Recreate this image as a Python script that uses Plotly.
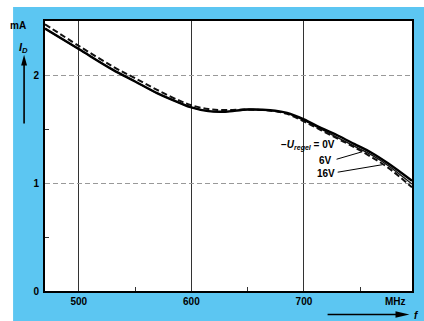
import plotly.graph_objects as go

# Frequency (MHz) and drain current (mA)
f_0v = [470, 500, 530, 550, 570, 590, 600, 615, 630, 650, 670, 685, 700, 715, 730, 745, 760, 775, 796]
i_0v = [2.43, 2.24, 2.05, 1.94, 1.83, 1.74, 1.70, 1.665, 1.66, 1.68, 1.675, 1.65, 1.59, 1.51, 1.44, 1.36, 1.28, 1.18, 1.02]

f_6v = [470, 500, 530, 550, 570, 590, 600, 615, 630, 650, 670, 685, 700, 715, 730, 745, 760, 775, 796]
i_6v = [2.43, 2.24, 2.05, 1.94, 1.83, 1.74, 1.70, 1.665, 1.66, 1.68, 1.67, 1.645, 1.58, 1.50, 1.42, 1.34, 1.26, 1.16, 0.99]

f_16v = [470, 500, 530, 550, 570, 590, 600, 615, 630, 650, 670, 685, 700, 715, 730, 745, 760, 775, 796]
i_16v = [2.47, 2.27, 2.08, 1.97, 1.86, 1.76, 1.72, 1.685, 1.675, 1.68, 1.67, 1.64, 1.57, 1.49, 1.41, 1.33, 1.24, 1.14, 0.96]

x_ticks = [500, 600, 700]
x_minor = [550, 650, 750]
y_ticks = [0, 1, 2]
y_minor = [0.5, 1.5]

BLUE = "#5cc6f2"
FONT = dict(family="Liberation Sans", size=10, color="black", weight="bold")

fig = go.Figure()
fig.add_trace(go.Scatter(x=f_16v, y=i_16v, mode="lines", line=dict(color="#111", width=2, dash="6px,3px", shape="spline")))
fig.add_trace(go.Scatter(x=f_6v, y=i_6v, mode="lines", line=dict(color="#111", width=1.4, shape="spline")))
fig.add_trace(go.Scatter(x=f_0v, y=i_0v, mode="lines", line=dict(color="#000", width=2.4, shape="spline")))

fig.update_layout(
    width=424, height=321,
    margin=dict(l=45, r=10, t=21, b=30),
    paper_bgcolor=BLUE, plot_bgcolor="white",
    showlegend=False,
    font=FONT,
)
fig.update_xaxes(
    range=[470, 796], tickvals=x_ticks, ticktext=[str(v) for v in x_ticks],
    showgrid=True, gridcolor="#333", gridwidth=1,
    showline=True, linecolor="black", linewidth=2, mirror=True,
    ticks="", zeroline=False, tickfont=FONT,
    minor=dict(tickvals=x_minor, ticks="inside", ticklen=4, tickcolor="#333", showgrid=False),
)
fig.update_yaxes(
    range=[0, 2.5], tickvals=y_ticks, ticktext=[str(v) for v in y_ticks],
    showgrid=True, gridcolor="#999", gridwidth=1, griddash="5px,3px",
    showline=True, linecolor="black", linewidth=2, mirror=True,
    ticks="", zeroline=False, tickfont=FONT, ticklabelstandoff=2,
    minor=dict(tickvals=y_minor, ticks="inside", ticklen=4, tickcolor="#333", showgrid=False),
)

# white scan margins (top and left)
fig.add_shape(type="rect", xref="paper", yref="paper", x0=-0.2, x1=1.1, y0=1.052, y1=1.2,
              fillcolor="white", line_width=0, layer="above")
fig.add_shape(type="rect", xref="paper", yref="paper", x0=-0.2, x1=-0.087, y0=-0.2, y1=1.2,
              fillcolor="white", line_width=0, layer="above")

# axis labels
fig.add_annotation(xref="paper", yref="paper", x=-0.045, y=0.985, text="mA", showarrow=False,
                   font=FONT, xanchor="right", yanchor="middle")
fig.add_annotation(xref="paper", yref="paper", x=-0.04, y=0.90, text="<i>I</i><sub><i>D</i></sub>",
                   showarrow=False, font=dict(family="Liberation Sans", size=11, color="black", weight="bold"),
                   xanchor="right", yanchor="middle")
# up arrow next to I_D
fig.add_shape(type="line", xref="paper", yref="paper", x0=-0.057, x1=-0.057, y0=0.62, y1=0.85,
              line=dict(color="black", width=1.6))
fig.add_shape(type="path", xref="paper", yref="paper",
              path="M -0.065 0.835 L -0.049 0.835 L -0.057 0.875 Z", fillcolor="black", line_width=0)
fig.add_annotation(xref="paper", yref="paper", x=0.99, y=-0.04, text="MHz", showarrow=False,
                   font=FONT, xanchor="right", yanchor="middle")
# right arrow next to f
fig.add_shape(type="line", xref="paper", yref="paper", x0=0.77, x1=0.97, y0=-0.087, y1=-0.087,
              line=dict(color="black", width=1.6))
fig.add_shape(type="path", xref="paper", yref="paper",
              path="M 0.955 -0.075 L 0.955 -0.099 L 0.993 -0.087 Z", fillcolor="black", line_width=0)
fig.add_annotation(xref="paper", yref="paper", x=1.0, y=-0.09, text="<i>f</i>", showarrow=False,
                   font=FONT, xanchor="left", yanchor="middle")

# curve labels
LFONT = dict(family="Liberation Sans", size=10, color="black", weight="bold")
fig.add_annotation(x=729, y=1.35, text="−<i>U</i><sub><i>regel</i></sub> = 0V", showarrow=False,
                   font=LFONT, xanchor="right", yanchor="middle")
fig.add_annotation(x=727, y=1.21, text="6V", showarrow=False, font=LFONT, xanchor="right", yanchor="middle")
fig.add_annotation(x=729, y=1.09, text="16V", showarrow=False, font=LFONT, xanchor="right", yanchor="middle")
fig.add_shape(type="line", x0=729, y0=1.22, x1=752, y1=1.29, line=dict(color="black", width=1))
fig.add_shape(type="line", x0=730, y0=1.10, x1=770, y1=1.17, line=dict(color="black", width=1))

fig.write_html("out.html")
